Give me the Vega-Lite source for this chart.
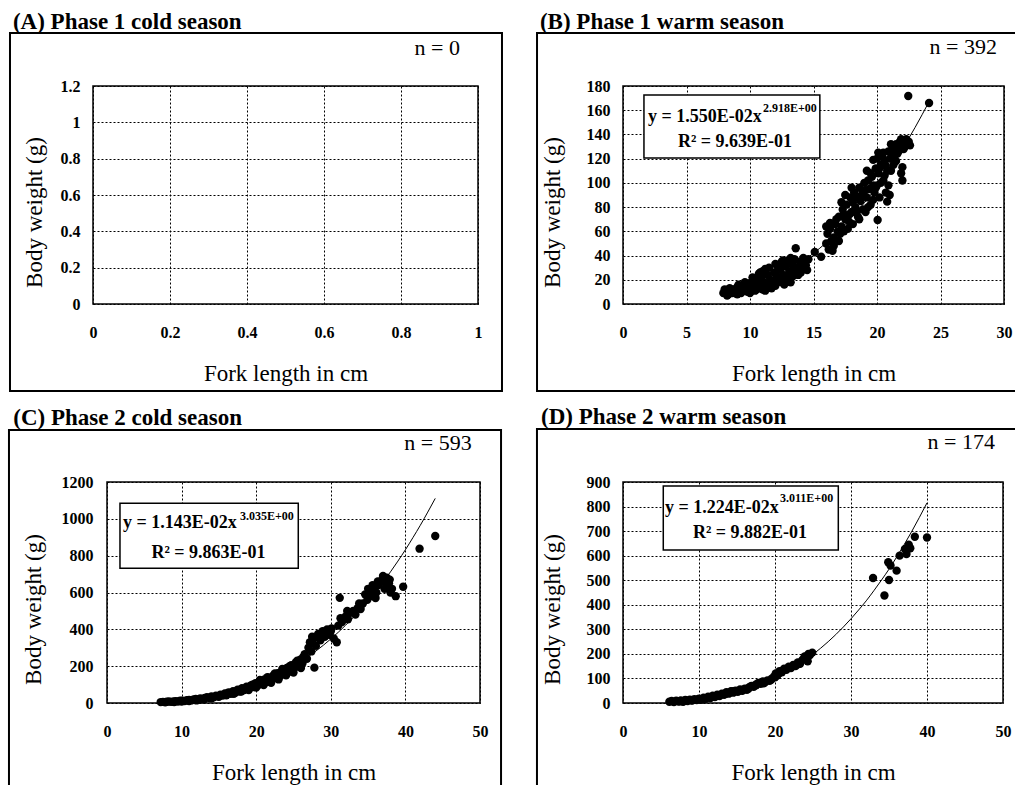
{
  "$schema": "https://vega.github.io/schema/vega-lite/v6.json",
  "autosize": {"type": "none"},
  "padding": {"left": 93, "top": 86, "right": 922, "bottom": 699},
  "background": "white",
  "config": {
    "font": "Liberation Serif",
    "view": {"stroke": "black", "strokeWidth": 1.5},
    "axis": {
      "domain": false, "ticks": false, "grid": true,
      "gridColor": "black", "gridDash": [2, 2], "gridWidth": 1, "gridOpacity": 1,
      "labelFont": "Liberation Serif", "labelFontSize": 16, "labelFontWeight": "bold", "labelColor": "black",
      "labelFlush": false, "labelOverlap": false, "tickCount": 30,
      "titleFont": "Liberation Serif", "titleFontSize": 23, "titleFontWeight": "normal", "titleColor": "black",
      "format": "~r"
    },
    "axisX": {"labelPadding": 20, "titlePadding": 22},
    "axisY": {"labelPadding": 13},
    "text": {"font": "Liberation Serif", "color": "black"}
  },
  "datasets": {
    "b_pts": [
      {"len": 7.9, "wt": 9}, {"len": 8.1, "wt": 10}, {"len": 8.3, "wt": 8}, {"len": 8.5, "wt": 11}, {"len": 8.7, "wt": 12},
      {"len": 8.9, "wt": 10}, {"len": 9.0, "wt": 14}, {"len": 9.2, "wt": 12}, {"len": 9.4, "wt": 11}, {"len": 9.5, "wt": 15},
      {"len": 9.7, "wt": 13}, {"len": 9.9, "wt": 16}, {"len": 10.0, "wt": 12}, {"len": 10.1, "wt": 18}, {"len": 10.3, "wt": 14},
      {"len": 10.5, "wt": 20}, {"len": 10.6, "wt": 16}, {"len": 10.8, "wt": 13}, {"len": 10.9, "wt": 22}, {"len": 11.0, "wt": 27},
      {"len": 11.1, "wt": 18}, {"len": 11.3, "wt": 15}, {"len": 11.4, "wt": 24}, {"len": 11.5, "wt": 30}, {"len": 11.6, "wt": 20},
      {"len": 11.8, "wt": 17}, {"len": 11.9, "wt": 26}, {"len": 12.0, "wt": 33}, {"len": 12.1, "wt": 22}, {"len": 12.3, "wt": 19},
      {"len": 12.4, "wt": 29}, {"len": 12.5, "wt": 35}, {"len": 12.6, "wt": 24}, {"len": 12.8, "wt": 31}, {"len": 12.9, "wt": 20},
      {"len": 13.0, "wt": 36}, {"len": 13.1, "wt": 27}, {"len": 13.3, "wt": 33}, {"len": 13.4, "wt": 23}, {"len": 13.5, "wt": 37},
      {"len": 13.6, "wt": 46}, {"len": 13.7, "wt": 30}, {"len": 13.9, "wt": 35}, {"len": 14.0, "wt": 26}, {"len": 14.2, "wt": 38},
      {"len": 14.4, "wt": 32}, {"len": 14.6, "wt": 37}, {"len": 15.1, "wt": 43}, {"len": 15.6, "wt": 39}, {"len": 16.0, "wt": 50},
      {"len": 16.1, "wt": 58}, {"len": 16.2, "wt": 45}, {"len": 16.3, "wt": 62}, {"len": 16.5, "wt": 44}, {"len": 16.6, "wt": 55},
      {"len": 16.7, "wt": 66}, {"len": 16.9, "wt": 60}, {"len": 17.0, "wt": 72}, {"len": 17.2, "wt": 64}, {"len": 17.3, "wt": 78},
      {"len": 17.5, "wt": 70}, {"len": 17.6, "wt": 82}, {"len": 17.8, "wt": 68}, {"len": 17.9, "wt": 88}, {"len": 18.0, "wt": 76},
      {"len": 18.2, "wt": 92}, {"len": 18.3, "wt": 80}, {"len": 18.5, "wt": 72}, {"len": 18.6, "wt": 96}, {"len": 18.7, "wt": 85},
      {"len": 18.9, "wt": 78}, {"len": 19.0, "wt": 100}, {"len": 19.2, "wt": 88}, {"len": 19.2, "wt": 110}, {"len": 19.4, "wt": 95},
      {"len": 19.5, "wt": 82}, {"len": 19.6, "wt": 105}, {"len": 19.7, "wt": 119}, {"len": 19.8, "wt": 92}, {"len": 19.9, "wt": 112},
      {"len": 20.0, "wt": 98}, {"len": 20.0, "wt": 120}, {"len": 20.05, "wt": 69.4}, {"len": 20.1, "wt": 108}, {"len": 20.2, "wt": 88},
      {"len": 20.3, "wt": 115}, {"len": 20.4, "wt": 122}, {"len": 20.5, "wt": 102}, {"len": 20.6, "wt": 118}, {"len": 20.7, "wt": 92},
      {"len": 20.8, "wt": 110}, {"len": 20.8, "wt": 84.5}, {"len": 20.9, "wt": 126}, {"len": 21.0, "wt": 90}, {"len": 21.0, "wt": 120},
      {"len": 21.2, "wt": 128}, {"len": 21.3, "wt": 115}, {"len": 21.5, "wt": 132}, {"len": 21.6, "wt": 124}, {"len": 21.8, "wt": 134},
      {"len": 22.0, "wt": 113}, {"len": 22.0, "wt": 102}, {"len": 22.1, "wt": 133}, {"len": 22.3, "wt": 136}, {"len": 22.5, "wt": 134},
      {"len": 22.46, "wt": 171.7}, {"len": 24.1, "wt": 166},
      {"len": 8.0, "wt": 12}, {"len": 8.4, "wt": 13}, {"len": 8.8, "wt": 9}, {"len": 9.1, "wt": 16}, {"len": 9.3, "wt": 9},
      {"len": 9.6, "wt": 18}, {"len": 9.8, "wt": 10}, {"len": 10.2, "wt": 22}, {"len": 10.4, "wt": 11}, {"len": 10.7, "wt": 25},
      {"len": 11.2, "wt": 11}, {"len": 11.7, "wt": 13}, {"len": 12.2, "wt": 28}, {"len": 12.7, "wt": 16}, {"len": 13.2, "wt": 18},
      {"len": 13.8, "wt": 24}, {"len": 14.1, "wt": 30}, {"len": 14.3, "wt": 36}, {"len": 14.5, "wt": 28}, {"len": 16.4, "wt": 52},
      {"len": 16.8, "wt": 70}, {"len": 17.1, "wt": 58}, {"len": 17.4, "wt": 74}, {"len": 17.7, "wt": 62}, {"len": 18.1, "wt": 84},
      {"len": 18.4, "wt": 76}, {"len": 18.8, "wt": 90}, {"len": 19.1, "wt": 94}, {"len": 19.3, "wt": 80}, {"len": 19.7, "wt": 98},
      {"len": 20.2, "wt": 112}, {"len": 20.6, "wt": 106}, {"len": 21.1, "wt": 110}, {"len": 21.4, "wt": 126}, {"len": 21.7, "wt": 130},
      {"len": 22.2, "wt": 130}, {"len": 21.9, "wt": 108}, {"len": 22.6, "wt": 131},
      {"len": 8.2, "wt": 7}, {"len": 8.6, "wt": 9}, {"len": 9.0, "wt": 8}, {"len": 9.5, "wt": 11}, {"len": 10.0, "wt": 9},
      {"len": 10.5, "wt": 12}, {"len": 11.0, "wt": 12}, {"len": 11.5, "wt": 14}, {"len": 12.0, "wt": 15}, {"len": 12.5, "wt": 18},
      {"len": 13.0, "wt": 22}, {"len": 13.5, "wt": 28}, {"len": 14.0, "wt": 33}, {"len": 11.2, "wt": 29}, {"len": 10.8, "wt": 26},
      {"len": 12.2, "wt": 32}, {"len": 12.6, "wt": 36}, {"len": 13.2, "wt": 38}, {"len": 16.0, "wt": 64}, {"len": 16.3, "wt": 67},
      {"len": 16.6, "wt": 48}, {"len": 17.0, "wt": 52}, {"len": 17.4, "wt": 60}, {"len": 17.8, "wt": 74}, {"len": 18.1, "wt": 66},
      {"len": 18.3, "wt": 88}, {"len": 18.6, "wt": 70}, {"len": 18.9, "wt": 92}, {"len": 19.1, "wt": 76}, {"len": 19.3, "wt": 102},
      {"len": 19.5, "wt": 108}, {"len": 19.7, "wt": 86}, {"len": 19.9, "wt": 96}, {"len": 20.1, "wt": 125}, {"len": 20.3, "wt": 100},
      {"len": 20.5, "wt": 125}, {"len": 20.7, "wt": 114}, {"len": 20.9, "wt": 98}, {"len": 21.1, "wt": 132}, {"len": 21.3, "wt": 122},
      {"len": 21.5, "wt": 118}, {"len": 21.7, "wt": 126}, {"len": 21.9, "wt": 136}, {"len": 22.1, "wt": 128}, {"len": 22.4, "wt": 132},
      {"len": 18.0, "wt": 96}, {"len": 17.5, "wt": 90}, {"len": 17.2, "wt": 84}
    ],
    "b_fit": [
      {"len": 8, "wt": 6.69}, {"len": 9, "wt": 9.44}, {"len": 10, "wt": 12.83}, {"len": 11, "wt": 16.95}, {"len": 12, "wt": 21.85},
      {"len": 13, "wt": 27.6}, {"len": 14, "wt": 34.27}, {"len": 15, "wt": 41.9}, {"len": 16, "wt": 50.6}, {"len": 17, "wt": 60.3},
      {"len": 18, "wt": 71.3}, {"len": 19, "wt": 83.5}, {"len": 20, "wt": 97.0}, {"len": 21, "wt": 111.8}, {"len": 22, "wt": 128.1},
      {"len": 23, "wt": 145.8}, {"len": 24.1, "wt": 167.1}
    ],
    "c_pts": [
      {"len": 7.2, "wt": 5}, {"len": 7.5, "wt": 6}, {"len": 7.8, "wt": 4}, {"len": 8.0, "wt": 7}, {"len": 8.3, "wt": 8},
      {"len": 8.6, "wt": 6}, {"len": 8.9, "wt": 9}, {"len": 9.2, "wt": 10}, {"len": 9.5, "wt": 8}, {"len": 9.8, "wt": 12},
      {"len": 10.1, "wt": 13}, {"len": 10.4, "wt": 11}, {"len": 10.7, "wt": 15}, {"len": 11.0, "wt": 17}, {"len": 11.3, "wt": 14},
      {"len": 11.6, "wt": 19}, {"len": 11.9, "wt": 22}, {"len": 12.2, "wt": 18}, {"len": 12.5, "wt": 25}, {"len": 12.8, "wt": 22},
      {"len": 13.1, "wt": 28}, {"len": 13.4, "wt": 32}, {"len": 13.7, "wt": 27}, {"len": 14.0, "wt": 36}, {"len": 14.3, "wt": 31},
      {"len": 14.6, "wt": 40}, {"len": 14.9, "wt": 36}, {"len": 15.2, "wt": 45}, {"len": 15.5, "wt": 40}, {"len": 15.8, "wt": 52},
      {"len": 16.0, "wt": 42}, {"len": 16.3, "wt": 58}, {"len": 16.6, "wt": 50}, {"len": 16.9, "wt": 64}, {"len": 17.2, "wt": 56},
      {"len": 17.5, "wt": 72}, {"len": 17.8, "wt": 62}, {"len": 18.1, "wt": 80}, {"len": 18.4, "wt": 70}, {"len": 18.7, "wt": 88},
      {"len": 19.0, "wt": 78}, {"len": 19.3, "wt": 96}, {"len": 19.6, "wt": 86}, {"len": 19.9, "wt": 108}, {"len": 20.2, "wt": 95},
      {"len": 20.5, "wt": 118}, {"len": 20.8, "wt": 104}, {"len": 21.1, "wt": 128}, {"len": 21.4, "wt": 114}, {"len": 21.7, "wt": 138},
      {"len": 22.0, "wt": 124}, {"len": 22.3, "wt": 150}, {"len": 22.6, "wt": 136}, {"len": 22.9, "wt": 162}, {"len": 23.2, "wt": 146},
      {"len": 23.5, "wt": 175}, {"len": 23.8, "wt": 158}, {"len": 24.1, "wt": 190}, {"len": 24.4, "wt": 170}, {"len": 24.7, "wt": 205},
      {"len": 25.0, "wt": 184}, {"len": 25.3, "wt": 220}, {"len": 25.6, "wt": 198}, {"len": 25.9, "wt": 235}, {"len": 26.2, "wt": 215},
      {"len": 26.5, "wt": 265}, {"len": 26.8, "wt": 240}, {"len": 27.0, "wt": 300}, {"len": 27.2, "wt": 330}, {"len": 27.4, "wt": 280},
      {"len": 27.8, "wt": 192}, {"len": 27.7, "wt": 350}, {"len": 28.0, "wt": 310}, {"len": 28.3, "wt": 375}, {"len": 28.6, "wt": 340},
      {"len": 28.9, "wt": 390}, {"len": 29.2, "wt": 360}, {"len": 29.5, "wt": 400}, {"len": 29.8, "wt": 370}, {"len": 30.1, "wt": 405},
      {"len": 30.4, "wt": 350}, {"len": 30.8, "wt": 330}, {"len": 31.0, "wt": 420}, {"len": 31.2, "wt": 571}, {"len": 31.5, "wt": 440},
      {"len": 32.0, "wt": 470}, {"len": 32.3, "wt": 455}, {"len": 32.6, "wt": 490}, {"len": 33.0, "wt": 500}, {"len": 33.3, "wt": 480},
      {"len": 33.6, "wt": 515}, {"len": 34.0, "wt": 510}, {"len": 34.3, "wt": 540}, {"len": 34.6, "wt": 590}, {"len": 34.9, "wt": 560},
      {"len": 35.2, "wt": 610}, {"len": 35.5, "wt": 580}, {"len": 35.8, "wt": 620}, {"len": 36.1, "wt": 600}, {"len": 36.4, "wt": 640},
      {"len": 36.7, "wt": 660}, {"len": 37.0, "wt": 690}, {"len": 37.2, "wt": 620}, {"len": 37.5, "wt": 680}, {"len": 37.8, "wt": 650},
      {"len": 38.0, "wt": 600}, {"len": 38.7, "wt": 580}, {"len": 39.7, "wt": 631}, {"len": 41.9, "wt": 838}, {"len": 44.0, "wt": 907},
      {"len": 9.0, "wt": 5}, {"len": 10.0, "wt": 8}, {"len": 11.0, "wt": 10}, {"len": 12.0, "wt": 14}, {"len": 13.0, "wt": 20},
      {"len": 14.0, "wt": 26}, {"len": 15.0, "wt": 34}, {"len": 16.0, "wt": 48}, {"len": 17.0, "wt": 50}, {"len": 18.0, "wt": 62},
      {"len": 19.0, "wt": 70}, {"len": 20.0, "wt": 84}, {"len": 21.0, "wt": 98}, {"len": 22.0, "wt": 110}, {"len": 23.0, "wt": 128},
      {"len": 24.0, "wt": 150}, {"len": 25.0, "wt": 165}, {"len": 26.0, "wt": 190}, {"len": 19.5, "wt": 100}, {"len": 20.5, "wt": 125},
      {"len": 21.5, "wt": 140}, {"len": 22.5, "wt": 160}, {"len": 23.5, "wt": 185}, {"len": 24.5, "wt": 200}, {"len": 25.5, "wt": 230},
      {"len": 26.3, "wt": 250}, {"len": 27.5, "wt": 360}, {"len": 29.0, "wt": 380}, {"len": 30.0, "wt": 390}, {"len": 31.3, "wt": 460},
      {"len": 32.2, "wt": 500}, {"len": 33.8, "wt": 540}, {"len": 35.0, "wt": 620}, {"len": 35.6, "wt": 640}, {"len": 36.3, "wt": 660},
      {"len": 36.9, "wt": 670}, {"len": 37.4, "wt": 650}, {"len": 37.9, "wt": 670}, {"len": 38.2, "wt": 620}, {"len": 36.0, "wt": 570}
    ],
    "c_fit": [
      {"len": 7, "wt": 4.2}, {"len": 8, "wt": 6.29}, {"len": 9, "wt": 9.0}, {"len": 10, "wt": 12.39}, {"len": 11, "wt": 16.5},
      {"len": 12, "wt": 21.5}, {"len": 13, "wt": 27.5}, {"len": 14, "wt": 34.4}, {"len": 15, "wt": 42.4}, {"len": 16, "wt": 51.6},
      {"len": 17, "wt": 62}, {"len": 18, "wt": 73.8}, {"len": 19, "wt": 86.9}, {"len": 20, "wt": 101.5}, {"len": 21, "wt": 117.7},
      {"len": 22, "wt": 135.6}, {"len": 23, "wt": 155.2}, {"len": 24, "wt": 176.6}, {"len": 25, "wt": 199.9}, {"len": 26, "wt": 225},
      {"len": 27, "wt": 252.5}, {"len": 28, "wt": 282}, {"len": 29, "wt": 313.6}, {"len": 30, "wt": 347.6}, {"len": 31, "wt": 384},
      {"len": 32, "wt": 423}, {"len": 33, "wt": 464}, {"len": 34, "wt": 508}, {"len": 35, "wt": 555}, {"len": 36, "wt": 604},
      {"len": 37, "wt": 657}, {"len": 38, "wt": 712}, {"len": 39, "wt": 770.7}, {"len": 40, "wt": 832}, {"len": 41, "wt": 897.5},
      {"len": 42, "wt": 965}, {"len": 43, "wt": 1036.6}, {"len": 44, "wt": 1111}
    ],
    "d_pts": [
      {"len": 6.1, "wt": 5}, {"len": 6.4, "wt": 8}, {"len": 6.7, "wt": 4}, {"len": 7.0, "wt": 9}, {"len": 7.3, "wt": 6},
      {"len": 7.6, "wt": 10}, {"len": 7.9, "wt": 5}, {"len": 8.2, "wt": 12}, {"len": 8.5, "wt": 8}, {"len": 8.8, "wt": 14},
      {"len": 9.1, "wt": 10}, {"len": 9.4, "wt": 16}, {"len": 9.7, "wt": 12}, {"len": 10.0, "wt": 18}, {"len": 10.3, "wt": 14},
      {"len": 10.6, "wt": 22}, {"len": 10.9, "wt": 17}, {"len": 11.2, "wt": 26}, {"len": 11.5, "wt": 20}, {"len": 11.8, "wt": 30},
      {"len": 12.1, "wt": 24}, {"len": 12.4, "wt": 34}, {"len": 12.7, "wt": 28}, {"len": 13.0, "wt": 38}, {"len": 13.3, "wt": 33},
      {"len": 13.6, "wt": 44}, {"len": 13.9, "wt": 38}, {"len": 14.2, "wt": 48}, {"len": 14.5, "wt": 42}, {"len": 14.8, "wt": 50},
      {"len": 15.1, "wt": 46}, {"len": 15.4, "wt": 55}, {"len": 15.7, "wt": 50}, {"len": 16.0, "wt": 58}, {"len": 16.3, "wt": 54},
      {"len": 16.6, "wt": 64}, {"len": 16.9, "wt": 70}, {"len": 17.2, "wt": 66}, {"len": 17.5, "wt": 76}, {"len": 17.8, "wt": 82},
      {"len": 18.1, "wt": 78}, {"len": 18.4, "wt": 88}, {"len": 18.7, "wt": 84}, {"len": 19.0, "wt": 92}, {"len": 19.3, "wt": 90},
      {"len": 19.6, "wt": 100}, {"len": 19.9, "wt": 108}, {"len": 20.1, "wt": 120}, {"len": 20.3, "wt": 112}, {"len": 20.6, "wt": 130},
      {"len": 20.9, "wt": 125}, {"len": 21.2, "wt": 140}, {"len": 21.5, "wt": 135}, {"len": 21.8, "wt": 148}, {"len": 22.1, "wt": 142},
      {"len": 22.4, "wt": 155}, {"len": 22.7, "wt": 150}, {"len": 23.0, "wt": 165}, {"len": 23.3, "wt": 160}, {"len": 23.6, "wt": 175},
      {"len": 23.9, "wt": 190}, {"len": 24.1, "wt": 180}, {"len": 24.4, "wt": 200}, {"len": 24.6, "wt": 195}, {"len": 24.9, "wt": 205},
      {"len": 32.9, "wt": 509}, {"len": 34.4, "wt": 438}, {"len": 35.0, "wt": 501}, {"len": 34.9, "wt": 573}, {"len": 35.2, "wt": 560},
      {"len": 36.0, "wt": 539}, {"len": 36.4, "wt": 600}, {"len": 37.1, "wt": 627}, {"len": 37.3, "wt": 607}, {"len": 37.6, "wt": 645},
      {"len": 37.8, "wt": 630}, {"len": 38.4, "wt": 677}, {"len": 40.0, "wt": 674},
      {"len": 7.5, "wt": 7}, {"len": 8.0, "wt": 8}, {"len": 9.0, "wt": 11}, {"len": 10.5, "wt": 16}, {"len": 11.5, "wt": 24},
      {"len": 12.5, "wt": 30}, {"len": 13.5, "wt": 38}, {"len": 14.5, "wt": 48}, {"len": 15.5, "wt": 52}, {"len": 16.5, "wt": 58},
      {"len": 17.5, "wt": 72}, {"len": 18.5, "wt": 80}, {"len": 19.5, "wt": 95}, {"len": 20.0, "wt": 105}, {"len": 20.5, "wt": 120},
      {"len": 21.0, "wt": 132}, {"len": 22.0, "wt": 145}, {"len": 23.0, "wt": 158}, {"len": 24.0, "wt": 185}, {"len": 24.3, "wt": 170}
    ],
    "d_fit": [
      {"len": 6, "wt": 2.7}, {"len": 7, "wt": 4.29}, {"len": 8, "wt": 6.41}, {"len": 9, "wt": 9.14}, {"len": 10, "wt": 12.55},
      {"len": 11, "wt": 16.73}, {"len": 12, "wt": 21.7}, {"len": 13, "wt": 27.65}, {"len": 14, "wt": 34.6}, {"len": 15, "wt": 42.6},
      {"len": 16, "wt": 51.7}, {"len": 17, "wt": 62.0}, {"len": 18, "wt": 73.7}, {"len": 19, "wt": 86.7}, {"len": 20, "wt": 101.2},
      {"len": 21, "wt": 117.2}, {"len": 22, "wt": 134.8}, {"len": 23, "wt": 154.1}, {"len": 24, "wt": 175.2}, {"len": 25, "wt": 198.1},
      {"len": 26, "wt": 223}, {"len": 27, "wt": 249.7}, {"len": 28, "wt": 278.7}, {"len": 29, "wt": 309.7}, {"len": 30, "wt": 343},
      {"len": 31, "wt": 378.7}, {"len": 32, "wt": 416}, {"len": 33, "wt": 457}, {"len": 34, "wt": 500}, {"len": 35, "wt": 545},
      {"len": 36, "wt": 594}, {"len": 37, "wt": 645}, {"len": 38, "wt": 699}, {"len": 39, "wt": 756}, {"len": 40, "wt": 815}
    ]
  },
  "columns": 2,
  "align": "each",
  "bounds": "flush",
  "spacing": {"row": 178, "column": 143},
  "concat": [
    {
      "width": 385, "height": 218,
      "layer": [
        {
          "data": {"values": [{"k": "frame"}]},
          "mark": {"type": "rect", "filled": false, "stroke": "black", "strokeWidth": 2},
          "encoding": {
            "x": {"datum": -0.2156, "type": "quantitative", "scale": {"domain": [0, 1], "nice": false, "zero": false},
                  "axis": {"values": [0, 0.2, 0.4, 0.6, 0.8, 1], "tickCount": 30, "title": "Fork length in cm", "labelOverlap": false}},
            "x2": {"datum": 1.0623},
            "y": {"datum": 1.4917, "type": "quantitative", "scale": {"domain": [0, 1.2], "nice": false, "zero": false},
                  "axis": {"values": [0, 0.2, 0.4, 0.6, 0.8, 1, 1.2], "tickCount": 30, "title": "Body weight (g)", "titlePadding": 14, "titleY": 126, "labelOverlap": false}},
            "y2": {"datum": -0.4789}
          }
        },
        {
          "data": {"values": [{"t": "(A) Phase 1 cold season"}]},
          "mark": {"type": "text", "align": "left", "baseline": "middle", "fontSize": 23, "fontWeight": "bold"},
          "encoding": {"x": {"datum": -0.208, "type": "quantitative"}, "y": {"datum": 1.554, "type": "quantitative"}, "text": {"field": "t"}}
        },
        {
          "data": {"values": [{"t": "n = 0"}]},
          "mark": {"type": "text", "align": "right", "baseline": "middle", "fontSize": 22},
          "encoding": {"x": {"datum": 0.953, "type": "quantitative"}, "y": {"datum": 1.4075, "type": "quantitative"}, "text": {"field": "t"}}
        },
        {
          "data": {"values": []},
          "mark": {"type": "point", "filled": true, "color": "black", "size": 70},
          "encoding": {"x": {"field": "len", "type": "quantitative"}, "y": {"field": "wt", "type": "quantitative"}}
        }
      ]
    },
    {
      "width": 381, "height": 218,
      "layer": [
        {
          "data": {"values": [{"k": "frame"}]},
          "mark": {"type": "rect", "filled": false, "stroke": "black", "strokeWidth": 2},
          "encoding": {
            "x": {"datum": -6.77, "type": "quantitative", "scale": {"domain": [0, 30], "nice": false, "zero": false},
                  "axis": {"values": [0, 5, 10, 15, 20, 25, 30], "tickCount": 30, "title": "Fork length in cm", "labelOverlap": false}},
            "x2": {"datum": 31.02},
            "y": {"datum": 223.8, "type": "quantitative", "scale": {"domain": [0, 180], "nice": false, "zero": false},
                  "axis": {"values": [0, 20, 40, 60, 80, 100, 120, 140, 160, 180], "tickCount": 30, "title": "Body weight (g)", "titlePadding": 22, "titleY": 126, "labelOverlap": false}},
            "y2": {"datum": -71.8}
          }
        },
        {
          "data": {"values": [{"t": "(B) Phase 1 warm season"}]},
          "mark": {"type": "text", "align": "left", "baseline": "middle", "fontSize": 23, "fontWeight": "bold"},
          "encoding": {"x": {"datum": -6.54, "type": "quantitative"}, "y": {"datum": 233.1, "type": "quantitative"}, "text": {"field": "t"}}
        },
        {
          "data": {"values": [{"t": "n = 392"}]},
          "mark": {"type": "text", "align": "right", "baseline": "middle", "fontSize": 22},
          "encoding": {"x": {"datum": 29.45, "type": "quantitative"}, "y": {"datum": 212.5, "type": "quantitative"}, "text": {"field": "t"}}
        },
        {
          "data": {"values": [{"k": "box"}]},
          "mark": {"type": "rect", "fill": "white", "stroke": "black", "strokeWidth": 1.5},
          "encoding": {"x": {"datum": 1.65, "type": "quantitative"}, "x2": {"datum": 15.5}, "y": {"datum": 172.6, "type": "quantitative"}, "y2": {"datum": 120.5}}
        },
        {
          "data": {"values": [{"t": "y = 1.550E-02x"}]},
          "mark": {"type": "text", "align": "left", "baseline": "middle", "fontSize": 18, "fontWeight": "bold"},
          "encoding": {"x": {"datum": 1.97, "type": "quantitative"}, "y": {"datum": 154.7, "type": "quantitative"}, "text": {"field": "t"}}
        },
        {
          "data": {"values": [{"t": "2.918E+00"}]},
          "mark": {"type": "text", "align": "left", "baseline": "middle", "fontSize": 12, "fontWeight": "bold"},
          "encoding": {"x": {"datum": 11.02, "type": "quantitative"}, "y": {"datum": 161.6, "type": "quantitative"}, "text": {"field": "t"}}
        },
        {
          "data": {"values": [{"t": "R² = 9.639E-01"}]},
          "mark": {"type": "text", "align": "center", "baseline": "middle", "fontSize": 18, "fontWeight": "bold"},
          "encoding": {"x": {"datum": 8.82, "type": "quantitative"}, "y": {"datum": 134.0, "type": "quantitative"}, "text": {"field": "t"}}
        },
        {
          "data": {"name": "b_pts"},
          "mark": {"type": "point", "filled": true, "color": "black", "opacity": 1, "size": 70},
          "encoding": {"x": {"field": "len", "type": "quantitative"}, "y": {"field": "wt", "type": "quantitative"}}
        },
        {
          "data": {"name": "b_fit"},
          "mark": {"type": "line", "color": "black", "strokeWidth": 1, "interpolate": "monotone"},
          "encoding": {"x": {"field": "len", "type": "quantitative"}, "y": {"field": "wt", "type": "quantitative"}}
        }
      ]
    },
    {
      "width": 387, "height": 221,
      "view": {"stroke": null},
      "layer": [
        {
          "data": {"values": [{"k": "frame"}]},
          "mark": {"type": "rect", "filled": false, "stroke": "black", "strokeWidth": 2},
          "encoding": {
            "x": {"datum": -13.14, "type": "quantitative", "scale": {"domain": [0, 50], "nice": false, "zero": false, "range": [14, 387]},
                  "axis": {"values": [0, 10, 20, 30, 40, 50], "tickCount": 30, "title": "Fork length in cm", "titleX": 200.5, "labelOverlap": false}},
            "x2": {"datum": 52.82},
            "y": {"datum": 1482.3, "type": "quantitative", "scale": {"domain": [0, 1200], "nice": false, "zero": false},
                  "axis": {"values": [0, 200, 400, 600, 800, 1000, 1200], "tickCount": 30, "title": "Body weight (g)", "titlePadding": 16, "titleY": 127, "labelPadding": 0, "labelOverlap": false}},
            "y2": {"datum": -526.7}
          }
        },
        {
          "data": {"values": [{"k": "plot"}]},
          "mark": {"type": "rect", "filled": false, "stroke": "black", "strokeWidth": 1.5},
          "encoding": {"x": {"datum": 0, "type": "quantitative"}, "x2": {"datum": 50}, "y": {"datum": 1200, "type": "quantitative"}, "y2": {"datum": 0}}
        },
        {
          "data": {"values": [{"t": "(C) Phase 2 cold season"}]},
          "mark": {"type": "text", "align": "left", "baseline": "middle", "fontSize": 23, "fontWeight": "bold"},
          "encoding": {"x": {"datum": -12.56, "type": "quantitative"}, "y": {"datum": 1545.9, "type": "quantitative"}, "text": {"field": "t"}}
        },
        {
          "data": {"values": [{"t": "n = 593"}]},
          "mark": {"type": "text", "align": "right", "baseline": "middle", "fontSize": 22},
          "encoding": {"x": {"datum": 48.9, "type": "quantitative"}, "y": {"datum": 1410.1, "type": "quantitative"}, "text": {"field": "t"}}
        },
        {
          "data": {"values": [{"k": "box"}]},
          "mark": {"type": "rect", "fill": "white", "stroke": "black", "strokeWidth": 1.5},
          "encoding": {"x": {"datum": 1.74, "type": "quantitative"}, "x2": {"datum": 25.64}, "y": {"datum": 1084, "type": "quantitative"}, "y2": {"datum": 731.4}}
        },
        {
          "data": {"values": [{"t": "y = 1.143E-02x"}]},
          "mark": {"type": "text", "align": "left", "baseline": "middle", "fontSize": 18, "fontWeight": "bold"},
          "encoding": {"x": {"datum": 2.14, "type": "quantitative"}, "y": {"datum": 977.4, "type": "quantitative"}, "text": {"field": "t"}}
        },
        {
          "data": {"values": [{"t": "3.035E+00"}]},
          "mark": {"type": "text", "align": "left", "baseline": "middle", "fontSize": 12, "fontWeight": "bold"},
          "encoding": {"x": {"datum": 17.83, "type": "quantitative"}, "y": {"datum": 1015.4, "type": "quantitative"}, "text": {"field": "t"}}
        },
        {
          "data": {"values": [{"t": "R² = 9.863E-01"}]},
          "mark": {"type": "text", "align": "center", "baseline": "middle", "fontSize": 18, "fontWeight": "bold"},
          "encoding": {"x": {"datum": 13.6, "type": "quantitative"}, "y": {"datum": 812.8, "type": "quantitative"}, "text": {"field": "t"}}
        },
        {
          "data": {"name": "c_pts"},
          "mark": {"type": "point", "filled": true, "color": "black", "opacity": 1, "size": 70},
          "encoding": {"x": {"field": "len", "type": "quantitative"}, "y": {"field": "wt", "type": "quantitative"}}
        },
        {
          "data": {"name": "c_fit"},
          "mark": {"type": "line", "color": "black", "strokeWidth": 1, "interpolate": "monotone"},
          "encoding": {"x": {"field": "len", "type": "quantitative"}, "y": {"field": "wt", "type": "quantitative"}}
        }
      ]
    },
    {
      "width": 380, "height": 221,
      "layer": [
        {
          "data": {"values": [{"k": "frame"}]},
          "mark": {"type": "rect", "filled": false, "stroke": "black", "strokeWidth": 2},
          "encoding": {
            "x": {"datum": -11.32, "type": "quantitative", "scale": {"domain": [0, 50], "nice": false, "zero": false},
                  "axis": {"values": [0, 10, 20, 30, 40, 50], "tickCount": 30, "title": "Fork length in cm", "labelOverlap": false}},
            "x2": {"datum": 51.84},
            "y": {"datum": 1115.8, "type": "quantitative", "scale": {"domain": [0, 900], "nice": false, "zero": false},
                  "axis": {"values": [0, 100, 200, 300, 400, 500, 600, 700, 800, 900], "tickCount": 30, "title": "Body weight (g)", "titlePadding": 22, "titleY": 127, "labelOverlap": false}},
            "y2": {"datum": -395}
          }
        },
        {
          "data": {"values": [{"t": "(D) Phase 2 warm season"}]},
          "mark": {"type": "text", "align": "left", "baseline": "middle", "fontSize": 23, "fontWeight": "bold"},
          "encoding": {"x": {"datum": -10.79, "type": "quantitative"}, "y": {"datum": 1165.9, "type": "quantitative"}, "text": {"field": "t"}}
        },
        {
          "data": {"values": [{"t": "n = 174"}]},
          "mark": {"type": "text", "align": "right", "baseline": "middle", "fontSize": 22},
          "encoding": {"x": {"datum": 48.95, "type": "quantitative"}, "y": {"datum": 1064.1, "type": "quantitative"}, "text": {"field": "t"}}
        },
        {
          "data": {"values": [{"k": "box"}]},
          "mark": {"type": "rect", "fill": "white", "stroke": "black", "strokeWidth": 1.5},
          "encoding": {"x": {"datum": 5.3, "type": "quantitative"}, "x2": {"datum": 28.33}, "y": {"datum": 883.7, "type": "quantitative"}, "y2": {"datum": 623.1}}
        },
        {
          "data": {"values": [{"t": "y = 1.224E-02x"}]},
          "mark": {"type": "text", "align": "left", "baseline": "middle", "fontSize": 18, "fontWeight": "bold"},
          "encoding": {"x": {"datum": 5.53, "type": "quantitative"}, "y": {"datum": 792.9, "type": "quantitative"}, "text": {"field": "t"}}
        },
        {
          "data": {"values": [{"t": "3.011E+00"}]},
          "mark": {"type": "text", "align": "left", "baseline": "middle", "fontSize": 12, "fontWeight": "bold"},
          "encoding": {"x": {"datum": 20.66, "type": "quantitative"}, "y": {"datum": 834.8, "type": "quantitative"}, "text": {"field": "t"}}
        },
        {
          "data": {"values": [{"t": "R² = 9.882E-01"}]},
          "mark": {"type": "text", "align": "center", "baseline": "middle", "fontSize": 18, "fontWeight": "bold"},
          "encoding": {"x": {"datum": 16.71, "type": "quantitative"}, "y": {"datum": 691.1, "type": "quantitative"}, "text": {"field": "t"}}
        },
        {
          "data": {"name": "d_pts"},
          "mark": {"type": "point", "filled": true, "color": "black", "opacity": 1, "size": 70},
          "encoding": {"x": {"field": "len", "type": "quantitative"}, "y": {"field": "wt", "type": "quantitative"}}
        },
        {
          "data": {"name": "d_fit"},
          "mark": {"type": "line", "color": "black", "strokeWidth": 1, "interpolate": "monotone"},
          "encoding": {"x": {"field": "len", "type": "quantitative"}, "y": {"field": "wt", "type": "quantitative"}}
        }
      ]
    }
  ]
}
